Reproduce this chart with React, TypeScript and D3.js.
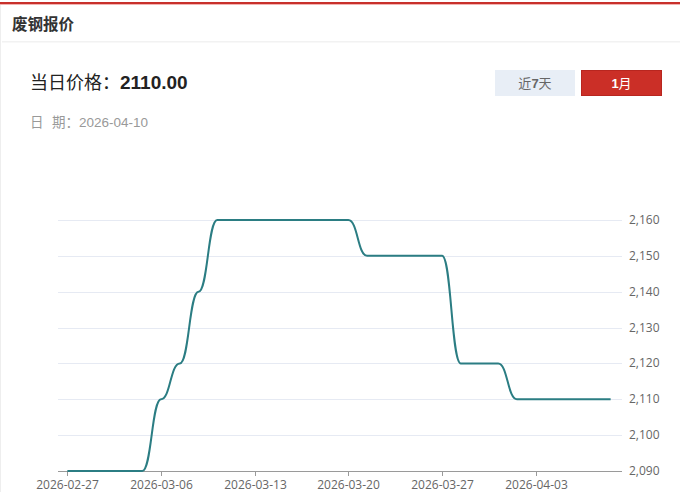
import React from "react";
import * as d3 from "d3";

const dates = [
  "2026-02-27",
  "2026-03-02", "2026-03-03", "2026-03-04", "2026-03-05", "2026-03-06",
  "2026-03-09", "2026-03-10", "2026-03-11", "2026-03-12", "2026-03-13",
  "2026-03-16", "2026-03-17", "2026-03-18", "2026-03-19", "2026-03-20",
  "2026-03-23", "2026-03-24", "2026-03-25", "2026-03-26", "2026-03-27",
  "2026-03-30", "2026-03-31", "2026-04-01", "2026-04-02", "2026-04-03",
  "2026-04-06", "2026-04-07", "2026-04-08", "2026-04-09",
];
const prices = [
  2090,
  2090, 2090, 2090, 2090, 2110,
  2120, 2140, 2160, 2160, 2160,
  2160, 2160, 2160, 2160, 2160,
  2150, 2150, 2150, 2150, 2150,
  2120, 2120, 2120, 2110, 2110,
  2110, 2110, 2110, 2110,
];
const xTickLabels = ["2026-02-27", "2026-03-06", "2026-03-13", "2026-03-20", "2026-03-27", "2026-04-03"];
const yTicks = [2090, 2100, 2110, 2120, 2130, 2140, 2150, 2160];

const W = 680;
const H = 492;
const left = 58;
const right = 620;
const top = 220;
const bottom = 471;

const CJK = "'Noto Sans CJK SC', 'Noto Sans', sans-serif";
const LAT = "'Open Sans', 'Noto Sans', sans-serif";
const ARIAL = "'Liberation Sans', Arial, sans-serif";

export default function App() {
  const x = d3.scalePoint<string>().domain(dates).range([left, right]).padding(0.5);
  const y = d3.scaleLinear().domain([2090, 2160]).range([bottom, top]);
  const line = d3
    .line<number>()
    .x((_, i) => x(dates[i]) as number)
    .y((d) => y(d))
    .curve(d3.curveBumpX);
  const fmt = d3.format(",");

  return (
    <div style={{ position: "fixed", left: 0, top: 0, width: W, height: H, background: "#fff" }}>
      <svg width={W} height={H} style={{ display: "block" }}>
        <rect x={0} y={0} width={W} height={H} fill="#fff" />
        <rect x={0} y={2} width={W} height={2} fill="#c8302b" />
        <rect x={0} y={4} width={W} height={1} fill="#f2b4b2" />
        <line x1={0.5} y1={5} x2={0.5} y2={H} stroke="#eeeeee" />
        <text x={12} y={30} fontFamily={CJK} fontWeight={700} fontSize={15.5} fill="#333">
          废钢报价
        </text>
        <rect x={2} y={41} width={W - 2} height={1.5} fill="#f2f2f2" />

        <text x={30} y={89} fontFamily={CJK} fontSize={18} fill="#222">
          当日价格：
          <tspan fontFamily={ARIAL} fontWeight={700} fontSize={19}>2110.00</tspan>
        </text>
        <text y={127} fontFamily={CJK} fontSize={13.5} fill="#999">
          <tspan x={30}>日</tspan>
          <tspan x={52}>期：</tspan>
          <tspan fontFamily={ARIAL}>2026-04-10</tspan>
        </text>

        <rect x={495} y={70} width={80} height={26} fill="#e8eef6" />
        <text x={535} y={88} textAnchor="middle" fontFamily={CJK} fontSize={13} fill="#666">
          近<tspan fontFamily={ARIAL} fontWeight={700}>7</tspan>天
        </text>
        <rect x={581.5} y={70.5} width={80} height={25} fill="#cb2f27" stroke="#b8261f" />
        <text x={621.5} y={88} textAnchor="middle" fontFamily={CJK} fontSize={13} fill="#fff">
          <tspan fontFamily={ARIAL} fontWeight={700}>1</tspan>月
        </text>

        {yTicks.map((t) =>
          t === 2090 ? null : (
            <line key={t} x1={left} x2={right + 2} y1={Math.round(y(t)) + 0.5} y2={Math.round(y(t)) + 0.5} stroke="#e6eaf3" />
          )
        )}
        {yTicks.map((t) => (
          <text key={"l" + t} x={629} y={y(t) + 4} fontFamily={LAT} fontSize={12} fill="#666">
            {fmt(t)}
          </text>
        ))}

        <line x1={left} x2={right + 2} y1={bottom + 0.5} y2={bottom + 0.5} stroke="#9a9a9a" />
        {xTickLabels.map((d) => {
          const px = Math.round(x(d) as number) + 0.5;
          return (
            <g key={d}>
              <line x1={px} x2={px} y1={bottom} y2={bottom + 5} stroke="#9a9a9a" />
              <text x={px} y={489} textAnchor="middle" fontFamily={LAT} fontSize={12} fill="#666">
                {d}
              </text>
            </g>
          );
        })}

        <path d={line(prices) || ""} fill="none" stroke="#2b7d83" strokeWidth={2} strokeLinejoin="round" />
      </svg>
    </div>
  );
}
